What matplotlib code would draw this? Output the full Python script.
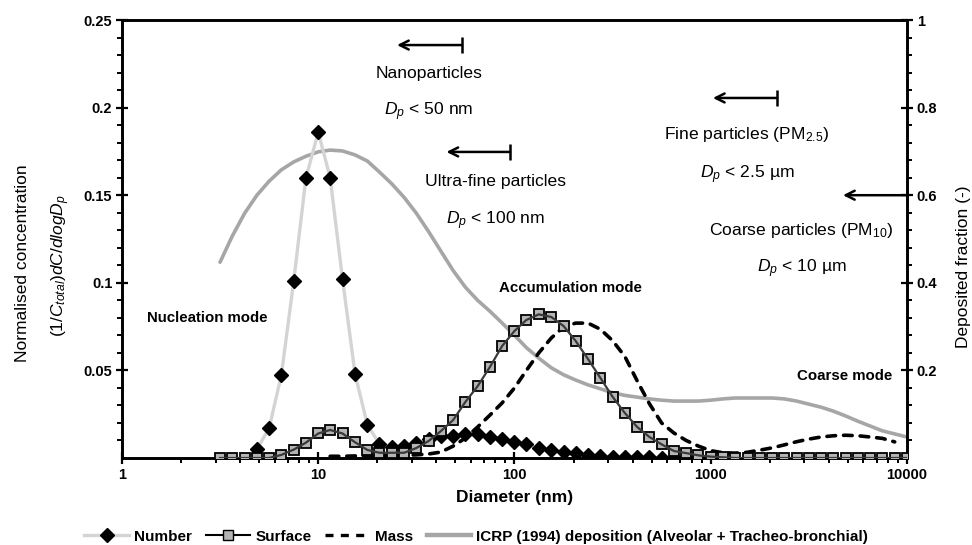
import matplotlib
matplotlib.use("Agg")
import matplotlib.pyplot as plt
from matplotlib.lines import Line2D
from matplotlib.ticker import FixedLocator, NullFormatter, LogLocator

plt.rcParams['font.family'] = ['Liberation Sans', 'DejaVu Sans']
plt.rcParams['mathtext.fontset'] = 'custom'
plt.rcParams['mathtext.rm'] = 'Liberation Sans'
plt.rcParams['mathtext.it'] = 'Liberation Sans:italic'
plt.rcParams['mathtext.bf'] = 'Liberation Sans:bold'

# Size bins (nm), 16 channels per decade from 3.16 nm to 10 um
diameter_nm = [3.16, 3.65, 4.22, 4.87, 5.62, 6.49, 7.50, 8.66, 10.0, 11.5,
               13.3, 15.4, 17.8, 20.5, 23.7, 27.4, 31.6, 36.5, 42.2, 48.7,
               56.2, 64.9, 75.0, 86.6, 100, 115, 133, 154, 178, 205,
               237, 274, 316, 365, 422, 487, 562, 649, 750, 866,
               1000, 1155, 1334, 1540, 1778, 2054, 2371, 2738, 3162, 3652,
               4217, 4870, 5623, 6494, 7499, 8660, 10000]

# Number distribution (4.87 nm .. 1000 nm)
number_d = diameter_nm[3:41]
number = [0.005, 0.017, 0.0475, 0.101, 0.160, 0.186, 0.160, 0.102, 0.048, 0.019,
          0.008, 0.0065, 0.007, 0.0085, 0.011, 0.0125, 0.0125, 0.0137, 0.0135, 0.012,
          0.011, 0.009, 0.0078, 0.0058, 0.0046, 0.0033, 0.0027, 0.0015, 0.0010, 0.0007,
          0.0005, 0.0004, 0.0003, 0.0002, 0.0001, 0.0, 0.0, 0.0]

# Surface distribution (all bins)
surface = [0.0, 0.0, 0.0, 0.0, 0.0, 0.0018, 0.0048, 0.0088, 0.014, 0.016,
           0.014, 0.009, 0.0046, 0.003, 0.003, 0.003, 0.0057, 0.0097, 0.0154, 0.0217,
           0.032, 0.041, 0.052, 0.064, 0.0725, 0.0788, 0.082, 0.0805, 0.0753, 0.0668,
           0.0565, 0.0457, 0.035, 0.0257, 0.0177, 0.012, 0.0078, 0.004, 0.0028, 0.0015,
           0.0008, 0.0004, 0.0, 0.0, 0.0, 0.0, 0.0, 0.0, 0.0, 0.0,
           0.0, 0.0, 0.0, 0.0, 0.0, 0.0, 0.0]

# Mass distribution (11.5 nm .. 8.66 um)
mass_d = diameter_nm[9:56]
mass = [0.001, 0.001, 0.0012, 0.0012, 0.0013, 0.0015, 0.0015, 0.0018, 0.0023, 0.0034,
        0.0068, 0.0114, 0.0177, 0.0245, 0.0315, 0.040, 0.050, 0.060, 0.0685, 0.0748,
        0.077, 0.077, 0.0735, 0.067, 0.058, 0.044, 0.031, 0.020, 0.0143, 0.0100,
        0.0068, 0.0042, 0.003, 0.0028, 0.0033, 0.0045, 0.0058, 0.0075, 0.0093, 0.0108,
        0.012, 0.0127, 0.013, 0.0127, 0.012, 0.0112, 0.0092]

# ICRP (1994) deposited fraction, alveolar + tracheo-bronchial
icrp = [0.447, 0.507, 0.559, 0.600, 0.632, 0.658, 0.676, 0.689, 0.699, 0.703,
        0.701, 0.692, 0.678, 0.653, 0.626, 0.595, 0.559, 0.517, 0.472, 0.428,
        0.390, 0.360, 0.335, 0.308, 0.280, 0.252, 0.228, 0.206, 0.190, 0.178,
        0.167, 0.158, 0.149, 0.143, 0.139, 0.135, 0.132, 0.130, 0.130, 0.130,
        0.132, 0.135, 0.137, 0.137, 0.137, 0.137, 0.135, 0.130, 0.123, 0.116,
        0.107, 0.096, 0.084, 0.073, 0.062, 0.055, 0.048]

x_ticks = [1, 10, 100, 1000, 10000]
x_ticklabels = ['1', '10', '100', '1000', '10000']
left_ticks = [0.05, 0.1, 0.15, 0.2, 0.25]
left_ticklabels = ['0.05', '0.1', '0.15', '0.2', '0.25']
right_ticks = [0.2, 0.4, 0.6, 0.8, 1.0]
right_ticklabels = ['0.2', '0.4', '0.6', '0.8', '1']

fig = plt.figure(figsize=(9.72, 5.45), dpi=100)
ax = fig.add_axes([0.1255, 0.1596, 0.8076, 0.8037])
ax2 = ax.twinx()
ax.set_zorder(ax2.get_zorder() + 1)
ax.patch.set_visible(False)

icrp_color = '#a6a6a6'
ax2.plot(diameter_nm, icrp, color=icrp_color, lw=2.6, solid_capstyle='round')

ax.plot(number_d, number, color='#d4d4d4', lw=2.4, zorder=2)
ax.plot(number_d, number, ls='none', marker='D', ms=6.8, mfc='black', mec='black', zorder=3)
ax.plot(mass_d, mass, color='black', lw=2.6, dashes=(2.4, 2.2), dash_capstyle='round', zorder=3)
ax.plot(diameter_nm, surface, ls='none', marker='s', ms=7.8, mfc='#b5b5b5', mec='black',
        mew=1.3, zorder=4)
ax.plot(diameter_nm, surface, color='#3a3a3a', lw=1.6, zorder=5)

ax.set_xscale('log')
ax.set_xlim(1, 10000)
ax.set_ylim(0, 0.25)
ax2.set_ylim(0, 1)

ax.xaxis.set_major_locator(FixedLocator(x_ticks))
ax.set_xticklabels(x_ticklabels)
ax.xaxis.set_minor_locator(LogLocator(base=10, subs=range(2, 10)))
ax.xaxis.set_minor_formatter(NullFormatter())
ax.set_yticks(left_ticks)
ax.set_yticklabels(left_ticklabels)
ax.yaxis.set_minor_locator(FixedLocator([i * 0.01 for i in range(1, 25)]))
ax2.set_yticks(right_ticks)
ax2.set_yticklabels(right_ticklabels)
ax2.yaxis.set_minor_locator(FixedLocator([i * 0.04 for i in range(1, 25)]))

for a in (ax, ax2):
    for sp in a.spines.values():
        sp.set_linewidth(1.9)
        sp.set_color('black')
ax.tick_params(axis='both', which='major', direction='inout', length=8, width=1.6,
               labelsize=10.5, pad=3)
ax.tick_params(axis='both', which='minor', direction='out', length=3.5, width=1.4)
ax2.tick_params(axis='y', which='major', direction='inout', length=8, width=1.6,
                labelsize=10.5, pad=3)
ax2.tick_params(axis='y', which='minor', direction='out', length=3.5, width=1.4)
for lbl in ax.get_xticklabels() + ax.get_yticklabels() + ax2.get_yticklabels():
    lbl.set_fontweight('bold')

ax.set_xlabel('Diameter (nm)', fontsize=12.5, fontweight='bold', labelpad=6)
fig.text(0.023, 0.517, 'Normalised concentration', rotation=90, ha='center', va='center',
         fontsize=12.5)
fig.text(0.062, 0.512, r'$\mathit{(1/C_{total})dC/dlogD_p}$', rotation=90, ha='center',
         va='center', fontsize=12.5)
fig.text(0.9915, 0.51, 'Deposited fraction (-)', rotation=90, ha='center', va='center',
         fontsize=12.5)

# Mode labels
ax.text(2.71, 0.080, 'Nucleation mode', ha='center', va='center', fontsize=10.8,
        fontweight='bold')
ax.text(192, 0.097, 'Accumulation mode', ha='center', va='center', fontsize=10.8,
        fontweight='bold')
ax.text(4830, 0.0468, 'Coarse mode', ha='center', va='center', fontsize=10.8,
        fontweight='bold')

# Size-class arrows and captions
def size_class(bar_x, head_x, y, title, limit, tx, d_title, d_limit, bar=True):
    ax.annotate('', xy=(head_x, y), xytext=(bar_x, y),
                arrowprops=dict(arrowstyle='->', lw=1.8, color='black',
                                mutation_scale=16, shrinkA=0, shrinkB=0))
    if bar:
        ax.plot([bar_x, bar_x], [y - 0.0048, y + 0.0048], color='black', lw=1.8,
                solid_capstyle='butt', clip_on=False)
    ax.text(tx, y - d_title, title, ha='center', va='center', fontsize=12.6)
    ax.text(tx, y - d_limit, limit, ha='center', va='center', fontsize=12.6)

size_class(54, 25.2, 0.2357, 'Nanoparticles', r'$D_p$ < 50 nm', 36.7, 0.0160, 0.0380)
size_class(95, 45, 0.1747, 'Ultra-fine particles', r'$D_p$ < 100 nm', 80, 0.0171, 0.0390)
size_class(2180, 1026, 0.2055, r'Fine particles (PM$_{\mathrm{2.5}}$)', r'$D_p$ < 2.5 µm',
           1530, 0.0211, 0.0440)
size_class(10000, 4720, 0.150, r'Coarse particles (PM$_{\mathrm{10}}$)', r'$D_p$ < 10 µm',
           2900, 0.0200, 0.0420, bar=False)

handles = [
    Line2D([], [], color='#d4d4d4', lw=2.4, marker='D', ms=6.8, mfc='black', mec='black'),
    Line2D([], [], color='black', lw=1.5, marker='s', ms=7.8, mfc='#b5b5b5', mec='black'),
    Line2D([], [], color='black', lw=2.4, dashes=(2.4, 2.2)),
    Line2D([], [], color=icrp_color, lw=3.2),
]
labels = ['Number', 'Surface', 'Mass', 'ICRP (1994) deposition (Alveolar + Tracheo-bronchial)']
fig.legend(handles, labels, loc='center', bbox_to_anchor=(0.49, 0.015), ncol=4,
           frameon=False, prop={'weight': 'bold', 'size': 11}, handlelength=2.9,
           columnspacing=0.9, handletextpad=0.35, borderpad=0)

fig.savefig('out.png', dpi=100)
